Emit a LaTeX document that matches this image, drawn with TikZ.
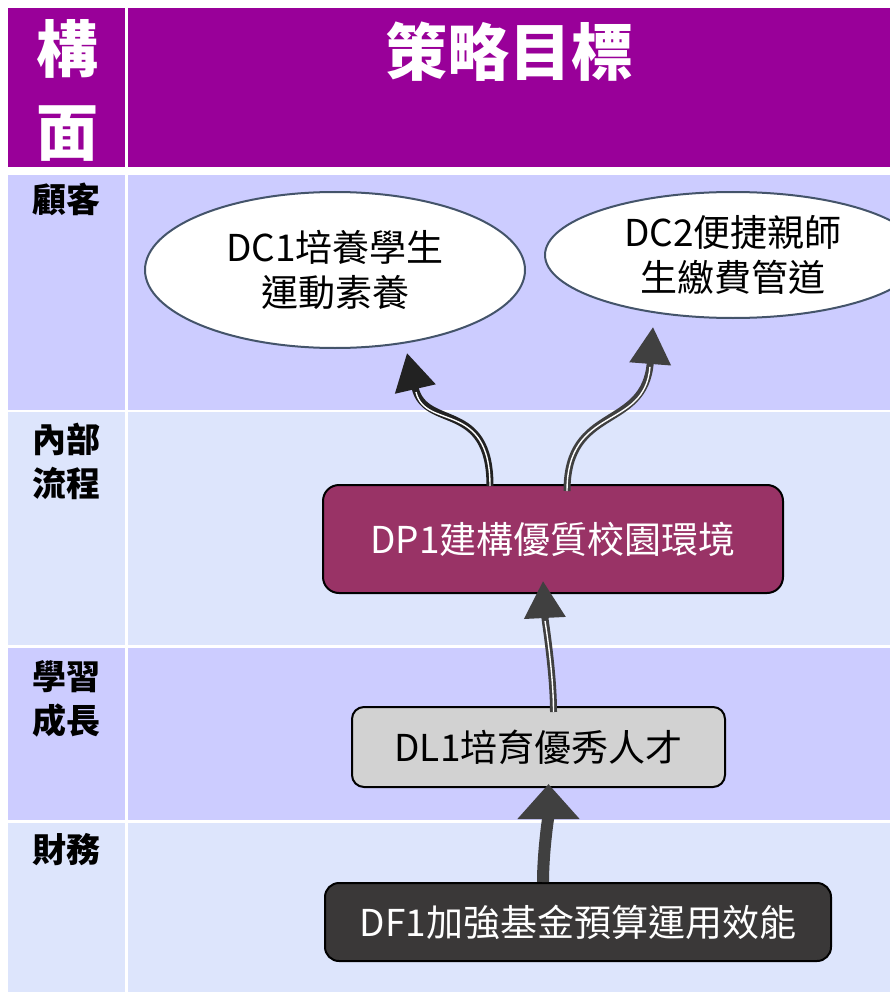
\documentclass[tikz,border=0pt]{standalone}
\usepackage{fontspec}
\setmainfont{Noto Sans CJK TC}
\usetikzlibrary{arrows.meta,shapes.geometric}

\definecolor{hdrpurple}{RGB}{153,0,153}
\definecolor{rowdark}{RGB}{204,204,255}
\definecolor{rowlight}{RGB}{221,229,252}
\definecolor{goalline}{RGB}{68,84,106}
\definecolor{procfill}{RGB}{153,51,102}
\definecolor{learnfill}{RGB}{210,210,210}
\definecolor{finfill}{RGB}{58,56,56}
\definecolor{arrowgray}{RGB}{64,64,64}
\definecolor{arrowdark}{RGB}{34,34,34}

\tikzset{
  goal/.style={ellipse,draw=goalline,line width=2pt,fill=white,inner sep=0pt},
  procbox/.style={rectangle,rounded corners=16pt,draw=black,line width=2pt,fill=procfill,text=white},
  learnbox/.style={rectangle,rounded corners=12pt,draw=black,line width=2pt,fill=learnfill},
  finbox/.style={rectangle,rounded corners=14pt,draw=black,line width=2pt,fill=finfill,text=white},
  bigarrow/.style={draw=arrowgray,line width=12pt,-{Triangle[width=60pt,length=35pt]}},
  thinarrow/.style={draw=#1,line width=7pt,-{Triangle[width=40pt,length=37pt]},
    postaction={draw=white,line width=1.4pt,shorten >=40pt,arrows=-}}
}

\begin{document}
\begin{tikzpicture}[x=1pt,y=-1pt]
  \useasboundingbox (0,0) rectangle (890,992);

  % table
  \fill[hdrpurple] (8,8) rectangle (125,167);
  \fill[hdrpurple] (128,8) rectangle (890,167);
  \foreach \top/\bot/\col in {175/410/rowdark,412/645/rowlight,648/820/rowdark,823/992/rowlight} {
    \fill[\col] (8,\top) rectangle (125,\bot);
    \fill[\col] (128,\top) rectangle (890,\bot);
  }

  % headings
  \begin{scope}[every node/.style={font=\bfseries\fontsize{62}{83}\selectfont,text=white,inner sep=0pt,align=center}]
    \node (hdim) at (67,90) {構\\面};
    \node[anchor=north] (hgoal) at (509,22) {策略目標};
  \end{scope}

  % row labels
  \begin{scope}[every node/.style={anchor=north,font=\bfseries\fontsize{34}{44}\selectfont,inner sep=0pt,align=center}]
    \node (lcust) at (66,183) {顧客};
    \node (lproc) at (66,423) {內部\\流程};
    \node (llearn) at (66,660) {學習\\成長};
    \node (lfin) at (66,833) {財務};
  \end{scope}

  % objectives
  \begin{scope}[every node/.style={font=\fontsize{37}{45}\selectfont,align=center}]
    \node[goal,minimum width=380pt,minimum height=156pt] (dc1) at (335,270) {DC1培養學生\\運動素養};
    \node[goal,minimum width=376pt,minimum height=126pt] (dc2) at (733,255) {DC2便捷親師\\生繳費管道};
    \node[procbox,minimum width=460pt,minimum height=108pt] (dp1) at (553,539) {DP1建構優質校園環境};
    \node[learnbox,minimum width=373pt,minimum height=80pt] (dl1) at (538.5,747) {DL1培育優秀人才};
    \node[finbox,minimum width=506pt,minimum height=78pt] (df1) at (578,922) {DF1加強基金預算運用效能};
  \end{scope}

  % links
  \draw[bigarrow] ([xshift=-35pt]df1.north) .. controls +(0,-30) and +(0,30) .. ([xshift=10pt,yshift=4pt]dl1.south);
  \draw[thinarrow=arrowgray] ([xshift=15pt,yshift=-6pt]dl1.north) .. controls +(0,-40) and +(2,40) .. ([xshift=-10pt,yshift=13pt]dp1.south);
  \draw[thinarrow=arrowdark] ([xshift=-63pt,yshift=-2pt]dp1.north) .. controls +(0,-87) and +(18,78) .. ([xshift=72pt,yshift=-4pt]dc1.south);
  \draw[thinarrow=arrowgray] ([xshift=14pt,yshift=-7pt]dp1.north) .. controls +(0,-87) and +(-8,104) .. ([xshift=-80pt,yshift=-8pt]dc2.south);
\end{tikzpicture}
\end{document}
